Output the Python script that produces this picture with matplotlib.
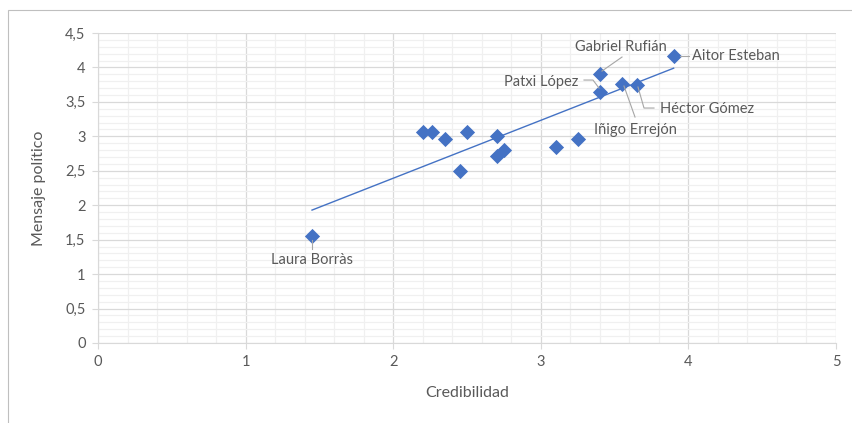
import matplotlib
matplotlib.use("Agg")
import matplotlib.pyplot as plt
import numpy as np
from matplotlib.patches import Rectangle

credibilidad = [1.45, 2.20, 2.26, 2.35, 2.50, 2.45, 2.70, 2.70, 2.75, 3.10, 3.25, 3.40, 3.40, 3.55, 3.65, 3.90]
mensaje = [1.55, 3.06, 3.06, 2.96, 3.06, 2.49, 3.00, 2.71, 2.80, 2.85, 2.96, 3.65, 3.90, 3.76, 3.74, 4.16]
nombres = ["Laura Borràs", "", "", "", "", "", "", "", "", "", "", "Patxi López", "Gabriel Rufián",
           "Iñigo Errejón", "Héctor Gómez", "Aitor Esteban"]

x_ticks = [0, 1, 2, 3, 4, 5]
y_ticks = [0, 0.5, 1, 1.5, 2, 2.5, 3, 3.5, 4, 4.5]
y_tick_labels = ["0", "0,5", "1", "1,5", "2", "2,5", "3", "3,5", "4", "4,5"]

plt.rcParams['font.family'] = ['Lato', 'DejaVu Sans']
W, H = 852, 423
fig = plt.figure(figsize=(W / 100, H / 100), dpi=100)
fig.patches.append(Rectangle((8 / W, -0.1), 1.2, 1 - 8 / H + 0.1 - 2 / H, transform=fig.transFigure,
                             fill=False, edgecolor="#bfbfbf", linewidth=0.8))
ax = fig.add_axes([98 / W, 1 - 343 / H, (836 - 98) / W, (343 - 33) / H])

ax.set_xlim(0, 5)
ax.set_ylim(0, 4.5)
ax.set_xticks(x_ticks)
ax.set_xticklabels([str(t) for t in x_ticks])
ax.set_yticks(y_ticks)
ax.set_yticklabels(y_tick_labels)
ax.set_xticks(np.arange(0, 5.01, 0.2), minor=True)
ax.set_yticks(np.arange(0, 4.51, 0.1), minor=True)
ax.grid(which="minor", color="#f0f0f0", linewidth=0.9)
ax.grid(which="major", color="#d9d9d9", linewidth=0.9)
ax.set_axisbelow(True)
for s in ["top", "right"]:
    ax.spines[s].set_visible(False)
for s in ["left", "bottom"]:
    ax.spines[s].set_color("#d9d9d9")
ax.tick_params(which="major", length=4, color="#d9d9d9", labelcolor="#595959", labelsize=10.5, pad=5)
ax.tick_params(which="minor", length=0)

c = np.array(credibilidad)
m = np.array(mensaje)
slope, inter = np.polyfit(c, m, 1)
xl = np.array([c.min(), c.max()])
ax.plot(xl, slope * xl + inter, color="#4472C4", linewidth=1.0, zorder=2)
ax.scatter(c, m, marker="D", s=60, color="#4472C4", zorder=3, linewidths=0)

ax.set_xlabel("Credibilidad", color="#595959", fontsize=11.5, labelpad=12)
ax.set_ylabel("Mensaje político", color="#595959", fontsize=11.5, labelpad=14)

gray = "#595959"
lc = "#a6a6a6"
def px(xp, yp):
    return ((xp - 98) / 147.6, (343 - yp) / 68.9)

label_pos = {
    "Laura Borràs": (px(312, 260), "center", [(312, 240), (312, 249)]),
    "Gabriel Rufián": (px(621, 47), "center", [(602, 71), (622, 57)]),
    "Aitor Esteban": (px(692, 56), "left", [(680, 56), (689, 56)]),
    "Patxi López": (px(578, 82), "right", [(584, 80), (593, 80), (599, 88)]),
    "Iñigo Errejón": (px(635, 130), "center", [(624, 86), (635, 117)]),
    "Héctor Gómez": (px(660, 109), "left", [(638, 87), (644, 108), (654, 108)]),
}
for nm in nombres:
    if not nm:
        continue
    pos, ha, lead = label_pos[nm]
    ax.text(pos[0], pos[1], nm, ha=ha, va="center", color=gray, fontsize=10.5, zorder=4)
    pts = [px(*p) for p in lead]
    ax.plot([p[0] for p in pts], [p[1] for p in pts], color=lc, linewidth=0.8, zorder=4, clip_on=False)

fig.savefig("out.png", dpi=100)
